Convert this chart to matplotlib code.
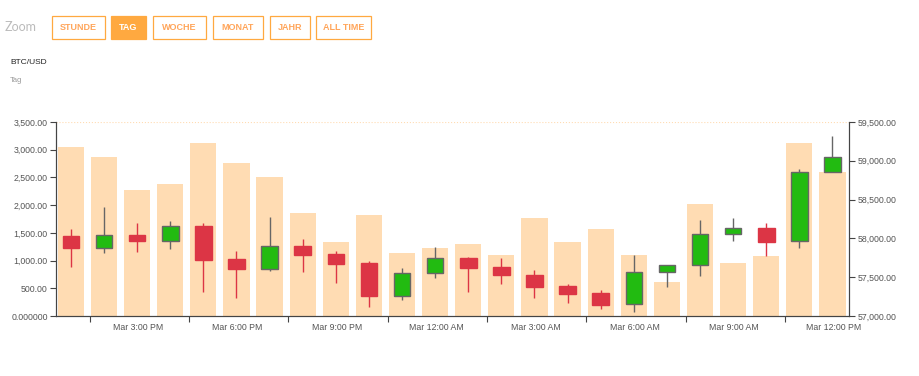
import matplotlib.pyplot as plt
import matplotlib.patches as mpatches
from matplotlib.ticker import FuncFormatter
import numpy as np

plt.rcParams['font.family'] = ['Liberation Sans', 'DejaVu Sans']

# hourly candles, BTC/USD
volume = [3054, 2874, 2273, 2381, 3115, 2760, 2508, 1853, 1330, 1822, 1142, 1233,
          1299, 1100, 1768, 1335, 1564, 1100, 613, 2020, 950, 1088, 3115, 2598]
opens = [58031, 57872, 58044, 57967, 58160, 57731, 57610, 57902, 57799, 57679, 57258, 57550,
         57751, 57631, 57528, 57391, 57296, 57151, 57571, 57657, 58057, 58130, 57963, 58856]
closes = [57872, 58044, 57967, 58160, 57722, 57610, 57902, 57790, 57666, 57258, 57558, 57751,
          57622, 57524, 57378, 57287, 57146, 57571, 57661, 58061, 58130, 57958, 58856, 59045]
highs = [58125, 58409, 58203, 58224, 58203, 57842, 58280, 57996, 57842, 57713, 57615, 57893,
         57764, 57747, 57589, 57412, 57335, 57786, 57661, 58237, 58267, 58195, 58890, 59320]
lows = [57635, 57816, 57829, 57859, 57313, 57228, 57580, 57563, 57429, 57112, 57206, 57494,
        57313, 57412, 57236, 57163, 57090, 57055, 57378, 57519, 57963, 57773, 57880, 58856]
time_labels = ['Mar 3:00 PM', 'Mar 6:00 PM', 'Mar 9:00 PM', 'Mar 12:00 AM',
               'Mar 3:00 AM', 'Mar 6:00 AM', 'Mar 9:00 AM', 'Mar 12:00 PM']

W, H = 920, 376
fig = plt.figure(figsize=(W / 100, H / 100), dpi=100)
ax = fig.add_axes([56 / W, 60 / H, 793 / W, 194 / H])
ax2 = ax.twinx()

x = np.arange(len(volume))
ax.bar(x, volume, width=0.79, color='#FFDCB3', zorder=1)

up_c, down_c = '#22BB11', '#DC3545'
for i in x:
    o, c, h, l = opens[i], closes[i], highs[i], lows[i]
    up = c >= o
    col = up_c if up else down_c
    edge = '#666666' if up else down_c
    ax2.vlines(i, l, h, color=edge, lw=1, zorder=2)
    ax2.bar(i, abs(c - o), bottom=min(o, c), width=0.5, color=col,
            edgecolor=edge, linewidth=1, zorder=3)

ax.set_xlim(-0.45, 23.5)
ax.set_ylim(0, 3500)
ax2.set_ylim(57000, 59500)
ax.set_yticks(np.arange(0, 3501, 500))
ax2.set_yticks(np.arange(57000, 59501, 500))
ax.yaxis.set_major_formatter(FuncFormatter(lambda v, p: '0.000000' if v == 0 else f'{v:,.2f}'))
ax2.yaxis.set_major_formatter(FuncFormatter(lambda v, p: f'{v:,.2f}'))

ax.set_xticks(0.565 + 3 * np.arange(8))
ax.set_xticklabels([])
ax.set_xticks(2.03 + 3 * np.arange(8), minor=True)
ax.set_xticklabels(time_labels, minor=True)
ax.tick_params(axis='x', which='minor', length=0, pad=5, labelsize=6.3, labelcolor='#555555')
ax.tick_params(axis='x', which='major', length=4, color='#444444')

for a in (ax, ax2):
    a.spines['top'].set_visible(False)
    for s in ('left', 'right', 'bottom'):
        a.spines[s].set_color('#444444')
    a.tick_params(axis='y', length=4, labelsize=6.3, labelcolor='#555555', color='#444444', pad=2)
ax.axhline(3500, color='#FFDCB3', lw=0.8, ls=':', zorder=0)

# header
def px(xp, yp):
    return xp / W, 1 - yp / H

fig.text(*px(5, 27), 'Zoom', fontsize=9, color='#BBBBBB', va='center', family=['Lato', 'DejaVu Sans'])
buttons = [('STUNDE', 52, 105), ('TAG', 111, 146), ('WOCHE', 153, 206),
           ('MONAT', 213, 263), ('JAHR', 270, 310), ('ALL TIME', 316, 371)]
for name, x0, x1 in buttons:
    active = name == 'TAG'
    fig.patches.append(mpatches.Rectangle(px(x0, 39), (x1 - x0) / W, 23 / H,
                                          transform=fig.transFigure,
                                          facecolor='#FFA940' if active else 'white',
                                          edgecolor='#FFA940', lw=0.9))
    fig.text(*px((x0 + x1) / 2, 27.5), name, fontsize=6.5, fontweight='bold',
             color='white' if active else '#FFA55A', ha='center', va='center')

fig.text(*px(10, 63), 'BTC/USD', fontsize=6, color='#222222', va='center')
fig.text(*px(10, 80), 'Tag', fontsize=5.5, color='#999999', va='center')

fig.savefig('out.png', dpi=100)
